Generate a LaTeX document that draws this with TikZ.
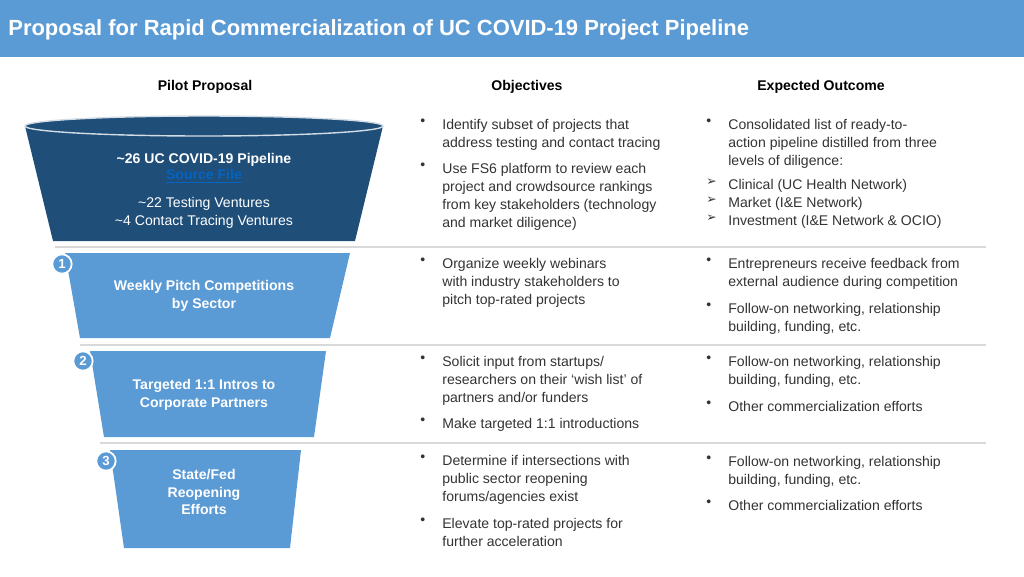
\documentclass[tikz,border=0pt]{standalone}
\usepackage{fontspec}
\setmainfont{Liberation Sans}
\newfontfamily\symfont{DejaVu Sans}
\definecolor{hdrblue}{HTML}{5B9BD5}
\definecolor{darkblue}{HTML}{1F4E79}
\definecolor{midblue}{HTML}{5B9BD5}
\definecolor{txtgray}{HTML}{333333}
\definecolor{linkblue}{HTML}{0563C1}
\tikzset{
  txt/.style={anchor=north west, align=left, inner sep=0pt, text=txtgray, font=\fontsize{8}{10.2}\selectfont},
  colhead/.style={font=\fontsize{8}{10}\selectfont\bfseries, text=black},
  stagetxt/.style={align=center, text=white, font=\fontsize{8}{10.2}\selectfont\bfseries},
  stagenum/.style={circle, draw=white, line width=1pt, fill=midblue, text=white, minimum size=11pt, inner sep=0pt, font=\fontsize{7.5}{8}\selectfont\bfseries},
  sepline/.style={draw=black!15, line width=0.6pt}
}
\newcommand{\bul}[4]{% name, x, y, text
  \node[txt] at (#2,#3) {\textbullet};
  \node[txt] (#1) at (#2+22,#3) {#4};}
\newcommand{\arr}[4]{%
  \node[txt] at (#2-1,#3) {\symfont\fontsize{7}{10}\selectfont ➢};
  \node[txt] (#1) at (#2+21,#3) {#4};}
\begin{document}
\begin{tikzpicture}[x=0.02cm, y=-0.02cm]
    \useasboundingbox (0,0) rectangle (1024,576);

    % Cabecera
    \fill[hdrblue] (0,0) rectangle (1024,57);
    \node[anchor=west, inner sep=0pt, text=white, font=\fontsize{12.5}{14}\selectfont\bfseries] (title) at (8,30)
      {Proposal for Rapid Commercialization of UC COVID-19 Project Pipeline};

    % Columnas
    \node[colhead] (pilot) at (205,87) {Pilot Proposal};
    \node[colhead] (obj) at (527,87) {Objectives};
    \node[colhead] (outc) at (821,87) {Expected Outcome};

    % Separadores
    \draw[sepline] (55,247) -- (986,247);
    \draw[sepline] (80,345) -- (986,345);
    \draw[sepline] (100,443) -- (986,443);

    % Embudo
    \fill[darkblue] (25,126) -- (383,126) -- (355,241) -- (53,241) -- cycle;
    \filldraw[fill=darkblue, draw=white!80!darkblue, line width=0.8pt] (204,126) ellipse (179 and 10);
    \node[stagetxt] (pipe) at (204,168) {\textasciitilde26 UC COVID-19 Pipeline\\[-1pt]
      {\color{linkblue}\underline{Source File}}};
    \node[stagetxt, font=\fontsize{8}{10.2}\selectfont] (vent) at (204,213) {\textasciitilde22 Testing Ventures\\\textasciitilde4 Contact Tracing Ventures};

    \fill[midblue] (65,253) -- (350,253) -- (330,338) -- (80,338) -- cycle;
    \node[stagetxt] (s1) at (204,296) {Weekly Pitch Competitions\\by Sector};
    \node[stagenum] (n1) at (62,264) {1};

    \fill[midblue] (90,351) -- (326,351) -- (314,437) -- (104,437) -- cycle;
    \node[stagetxt] (s2) at (204,395) {Targeted 1:1 Intros to\\Corporate Partners};
    \node[stagenum] (n2) at (83,361) {2};

    \fill[midblue] (110,450) -- (301,450) -- (290,548) -- (124,548) -- cycle;
    \node[stagetxt] (s3) at (204,492) {State/Fed\\Reopening\\Efforts};
    \node[stagenum] (n3) at (106,461) {3};

    % Objetivos
    \bul{o1}{420}{119}{Identify subset of projects that\\address testing and contact tracing}
    \bul{o2}{420}{163}{Use FS6 platform to review each\\project and crowdsource rankings\\from key stakeholders (technology\\and market diligence)}
    \bul{o3}{420}{258}{Organize weekly webinars\\with industry stakeholders to\\pitch top-rated projects}
    \bul{o4}{420}{356}{Solicit input from startups/\\researchers on their `wish list' of\\partners and/or funders}
    \bul{o5}{420}{418}{Make targeted 1:1 introductions}
    \bul{o6}{420}{455}{Determine if intersections with\\public sector reopening\\forums/agencies exist}
    \bul{o7}{420}{518}{Elevate top-rated projects for\\further acceleration}

    % Resultados
    \bul{r1}{706}{119}{Consolidated list of ready-to-\\action pipeline distilled from three\\levels of diligence:}
    \arr{r2}{707}{179}{Clinical (UC Health Network)\\Market (I\&E Network)\\Investment (I\&E Network \& OCIO)}
    \node[txt] at (706,197) {\symfont\fontsize{7}{10}\selectfont ➢};
    \node[txt] at (706,215) {\symfont\fontsize{7}{10}\selectfont ➢};
    \bul{r3}{706}{258}{Entrepreneurs receive feedback from\\external audience during competition}
    \bul{r4}{706}{303}{Follow-on networking, relationship\\building, funding, etc.}
    \bul{r5}{706}{356}{Follow-on networking, relationship\\building, funding, etc.}
    \bul{r6}{706}{401}{Other commercialization efforts}
    \bul{r7}{706}{456}{Follow-on networking, relationship\\building, funding, etc.}
    \bul{r8}{706}{500}{Other commercialization efforts}
\end{tikzpicture}
\end{document}
